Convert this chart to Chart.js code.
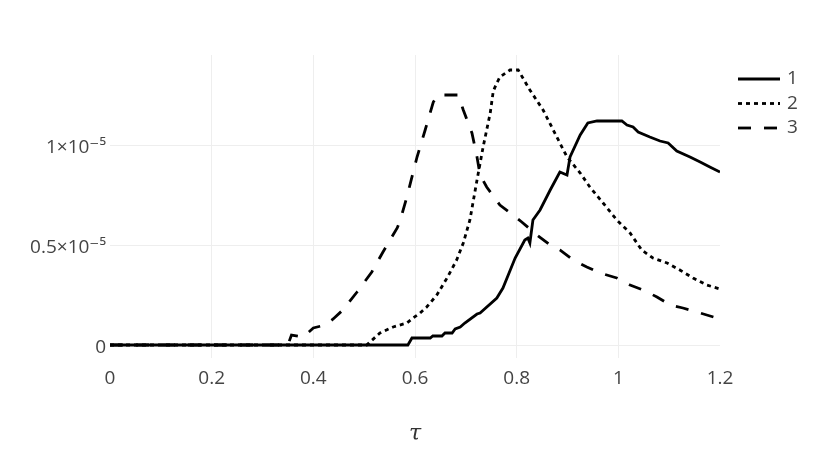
<!DOCTYPE html>
<html>
<head>
<meta charset="utf-8">
<script src="https://cdn.jsdelivr.net/npm/chart.js@4"></script>
<style>
  body { margin: 0; background: #fff; }
  canvas { display: block; }
</style>
</head>
<body>
<canvas id="tauChart" width="830" height="471"></canvas>
<script>
// values, y in units of 1e-5
const x1 = [0, 0.586, 0.594, 0.63, 0.635, 0.653, 0.659, 0.673, 0.679, 0.689, 0.698, 0.722, 0.728, 0.761, 0.773, 0.797, 0.816, 0.822, 0.826, 0.832, 0.846, 0.866, 0.885, 0.899, 0.905, 0.925, 0.94, 0.958, 1.007, 1.017, 1.029, 1.039, 1.062, 1.082, 1.098, 1.115, 1.141, 1.161, 1.18, 1.2];
const y1 = [0, 0, 0.035, 0.035, 0.045, 0.045, 0.06, 0.06, 0.08, 0.09, 0.11, 0.155, 0.16, 0.235, 0.285, 0.435, 0.525, 0.535, 0.51, 0.625, 0.675, 0.775, 0.865, 0.85, 0.94, 1.05, 1.11, 1.12, 1.12, 1.10, 1.09, 1.065, 1.04, 1.02, 1.01, 0.97, 0.94, 0.915, 0.89, 0.865];

const x2 = [0, 0.505, 0.531, 0.557, 0.584, 0.596, 0.61, 0.623, 0.643, 0.663, 0.682, 0.695, 0.708, 0.722, 0.734, 0.748, 0.754, 0.761, 0.767, 0.787, 0.803, 0.826, 0.852, 0.879, 0.899, 0.925, 0.944, 0.97, 0.997, 1.023, 1.046, 1.068, 1.096, 1.121, 1.147, 1.174, 1.2];
const y2 = [0, 0, 0.06, 0.09, 0.11, 0.135, 0.16, 0.19, 0.25, 0.335, 0.425, 0.51, 0.625, 0.825, 0.99, 1.16, 1.27, 1.31, 1.34, 1.375, 1.375, 1.275, 1.175, 1.04, 0.94, 0.86, 0.79, 0.71, 0.625, 0.56, 0.475, 0.435, 0.41, 0.375, 0.335, 0.30, 0.28];

const x3 = [0, 0.35, 0.357, 0.38, 0.40, 0.423, 0.439, 0.458, 0.486, 0.515, 0.537, 0.565, 0.571, 0.584, 0.604, 0.62, 0.636, 0.645, 0.685, 0.695, 0.712, 0.722, 0.728, 0.741, 0.767, 0.793, 0.81, 0.84, 0.866, 0.885, 0.911, 0.938, 0.964, 0.997, 1.023, 1.049, 1.076, 1.102, 1.127, 1.161, 1.2];
const y3 = [0, 0, 0.05, 0.04, 0.085, 0.10, 0.13, 0.175, 0.265, 0.365, 0.465, 0.585, 0.625, 0.74, 0.94, 1.075, 1.215, 1.25, 1.25, 1.175, 1.06, 0.94, 0.85, 0.79, 0.70, 0.65, 0.615, 0.55, 0.50, 0.475, 0.425, 0.39, 0.36, 0.335, 0.30, 0.275, 0.24, 0.20, 0.185, 0.16, 0.13];

const seriesNames = ['1', '2', '3'];
const xTicks = [0, 0.2, 0.4, 0.6, 0.8, 1, 1.2];
const xTickLabels = ['0', '0.2', '0.4', '0.6', '0.8', '1', '1.2'];
const yTicks = [0, 0.5, 1];
const yTickLabels = ['0', '0.5×10⁻⁵', '1×10⁻⁵'];

const FONT = '"Open Sans", "DejaVu Sans", sans-serif';

function pts(xs, ys) {
    return xs.map((x, i) => ({ x: x, y: ys[i] }));
}

// legend drawn by hand, plotly style (line sample + label) top right
const sideLegend = {
    id: 'sideLegend',
    afterDraw(chart) {
        const ctx = chart.ctx;
        const rows = [79, 103.5, 128];
        ctx.save();
        chart.data.datasets.forEach((ds, i) => {
            ctx.strokeStyle = ds.borderColor;
            ctx.lineWidth = ds.borderWidth;
            ctx.setLineDash(ds.borderDash || []);
            ctx.beginPath();
            ctx.moveTo(738, rows[i]);
            ctx.lineTo(780, rows[i]);
            ctx.stroke();
            ctx.setLineDash([]);
            ctx.fillStyle = '#444';
            ctx.font = '19px ' + FONT;
            ctx.textBaseline = 'middle';
            ctx.textAlign = 'left';
            ctx.fillText(ds.label, 787, rows[i]);
        });
        ctx.restore();
    }
};

const common = { borderColor: '#000', borderWidth: 2.8, pointRadius: 0, tension: 0, fill: false };

new Chart(document.getElementById('tauChart'), {
    type: 'line',
    data: {
        datasets: [
            Object.assign({ label: seriesNames[0], data: pts(x1, y1), borderDash: [] }, common),
            Object.assign({ label: seriesNames[1], data: pts(x2, y2), borderDash: [4, 4] }, common),
            Object.assign({ label: seriesNames[2], data: pts(x3, y3), borderDash: [13, 13] }, common)
        ]
    },
    options: {
        responsive: false,
        animation: false,
        devicePixelRatio: 1,
        layout: { padding: { top: 55, right: 110, left: 0, bottom: 0 } },
        plugins: { legend: { display: false }, tooltip: { enabled: false } },
        scales: {
            x: {
                type: 'linear',
                min: 0,
                max: 1.2,
                afterFit: s => { s.height = 113; },
                afterBuildTicks: s => { s.ticks = xTicks.map(v => ({ value: v })); },
                border: { display: false },
                grid: {
                    drawTicks: false,
                    color: c => (c.tick && (c.tick.value === 0 || c.tick.value === 1.2)) ? 'rgba(0,0,0,0)' : '#eee',
                    lineWidth: 1
                },
                ticks: {
                    padding: 9,
                    color: '#444',
                    font: { family: FONT, size: 19 },
                    maxRotation: 0,
                    callback: (v) => xTickLabels[xTicks.indexOf(v)]
                },
                title: {
                    display: true,
                    text: 'τ',
                    color: '#333',
                    font: { family: '"DejaVu Serif", "Liberation Serif", serif', size: 22, style: 'italic' },
                    padding: { top: 0, bottom: 24 }
                }
            },
            y: {
                type: 'linear',
                min: -0.065,
                max: 1.45,
                afterFit: s => { s.width = 110; },
                afterBuildTicks: s => { s.ticks = yTicks.map(v => ({ value: v })); },
                border: { display: false },
                grid: { drawTicks: false, color: '#eee', lineWidth: 1 },
                ticks: {
                    padding: 4,
                    labelOffset: 3,
                    color: '#444',
                    font: { family: FONT, size: 19 },
                    callback: (v) => yTickLabels[yTicks.indexOf(v)]
                }
            }
        }
    },
    plugins: [sideLegend]
});
</script>
</body>
</html>
